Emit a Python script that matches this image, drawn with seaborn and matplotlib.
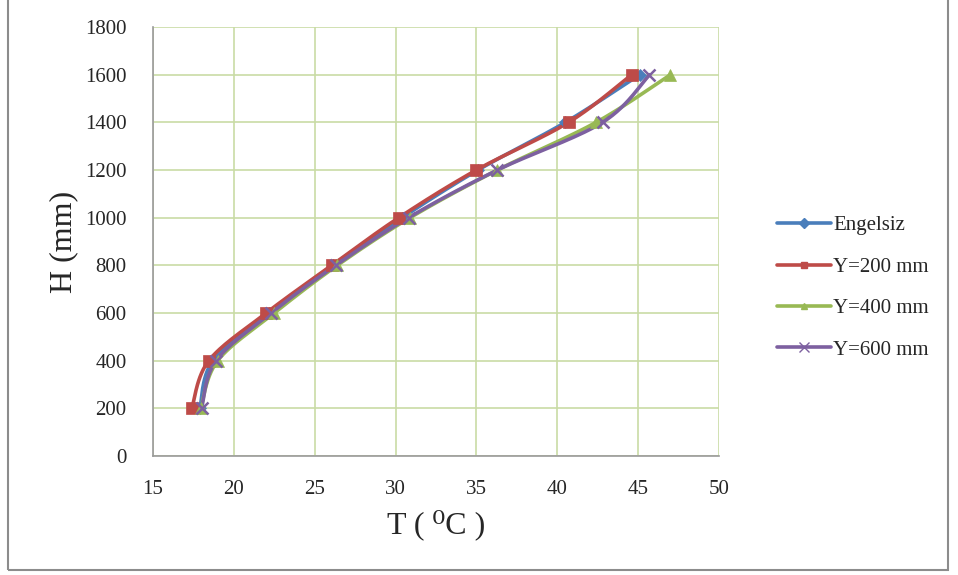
import numpy as np
import pandas as pd
import matplotlib
matplotlib.use("Agg")
import matplotlib.pyplot as plt
import seaborn as sns
from matplotlib.patches import Rectangle

H = [200, 400, 600, 800, 1000, 1200, 1400, 1600]
T_engelsiz = [17.9, 18.7, 22.2, 26.1, 30.4, 35.1, 40.5, 45.1]
T_y200 = [17.4, 18.45, 22.0, 26.05, 30.2, 35.0, 40.7, 44.6]
T_y400 = [17.95, 19.0, 22.5, 26.4, 30.9, 36.3, 42.4, 47.0]
T_y600 = [18.0, 18.9, 22.3, 26.3, 30.8, 36.3, 42.8, 45.7]
series_names = ["Engelsiz", "Y=200 mm", "Y=400 mm", "Y=600 mm"]
series_T = [T_engelsiz, T_y200, T_y400, T_y600]
colors = ["#4A7EBB", "#BE4B48", "#98B954", "#7D60A0"]
markers = ["D", "s", "^", "x"]
msizes = [6, 9, 9, 9]

sns.set_style("white")
plt.rcParams["font.family"] = ["Liberation Serif", "DejaVu Serif"]


def smooth(x, y, n=30):
    # Catmull-Rom style bezier smoothing (like Excel smoothed lines)
    x = np.asarray(x, float); y = np.asarray(y, float)
    px = np.concatenate([[x[0]], x, [x[-1]]])
    py = np.concatenate([[y[0]], y, [y[-1]]])
    ox, oy = [], []
    t = np.linspace(0, 1, n)
    for i in range(1, len(px) - 2):
        p0 = np.array([px[i - 1], py[i - 1]]); p1 = np.array([px[i], py[i]])
        p2 = np.array([px[i + 1], py[i + 1]]); p3 = np.array([px[i + 2], py[i + 2]])
        c1 = p1 + (p2 - p0) / 6.0
        c2 = p2 - (p3 - p1) / 6.0
        b = ((1 - t) ** 3)[:, None] * p1 + (3 * (1 - t) ** 2 * t)[:, None] * c1 \
            + (3 * (1 - t) * t ** 2)[:, None] * c2 + (t ** 3)[:, None] * p2
        ox.extend(b[:, 0]); oy.extend(b[:, 1])
    return np.array(ox), np.array(oy)


fig = plt.figure(figsize=(9.58, 5.75), dpi=100)
ax = fig.add_axes([153 / 958, 1 - 456 / 575, (719 - 153) / 958, (456 - 27) / 575])

for name, T, c, m, ms in zip(series_names, series_T, colors, markers, msizes):
    sx, sy = smooth(T, H)
    df = pd.DataFrame({"T": sx, "H": sy})
    sns.lineplot(data=df, x="T", y="H", sort=False, estimator=None, color=c,
                 linewidth=2.6, ax=ax, zorder=3)
    ax.plot(T, H, linestyle="none", marker=m, color=c, markersize=ms,
            markeredgewidth=1.8 if m == "x" else 0.5, zorder=4)

handles = [plt.Line2D([], [], color=c, lw=2.6, marker=m,
                      markersize=(5 if m != "x" else 7))
           for c, m in zip(colors, markers)]
fig.legend(handles, series_names, loc="upper left",
           bbox_to_anchor=(758 / 958, 1 - 197 / 575), frameon=False,
           fontsize=15, handlelength=2.6, handletextpad=0.1, labelspacing=1.05)

ax.set_xlim(15, 50)
ax.set_ylim(0, 1800)
ax.set_xticks(np.arange(15, 51, 5))
ax.set_yticks(np.arange(0, 1801, 200))
ax.grid(True, color="#C9DCA5", linewidth=1.2)
ax.set_axisbelow(True)
for s in ["top", "right"]:
    ax.spines[s].set_visible(False)
for s in ["left", "bottom"]:
    ax.spines[s].set_color("#9A9A9A")
    ax.spines[s].set_linewidth(1.2)
ax.tick_params(axis="both", which="both", direction="out", length=6, width=1,
               color="#9A9A9A", labelsize=15)
ax.tick_params(axis="x", pad=11)
ax.tick_params(axis="y", pad=13)
ax.set_xlabel("T ( \u2070C )", fontsize=23, labelpad=8)
ax.set_ylabel("H (mm)", fontsize=23, labelpad=5)

fig.patches.append(Rectangle((8 / 958, 1 - 570 / 575), (948 - 8) / 958, 575 / 575,
                             transform=fig.transFigure, fill=False,
                             edgecolor="#8C8C8C", linewidth=1.5))

fig.savefig("out.png", dpi=100)
